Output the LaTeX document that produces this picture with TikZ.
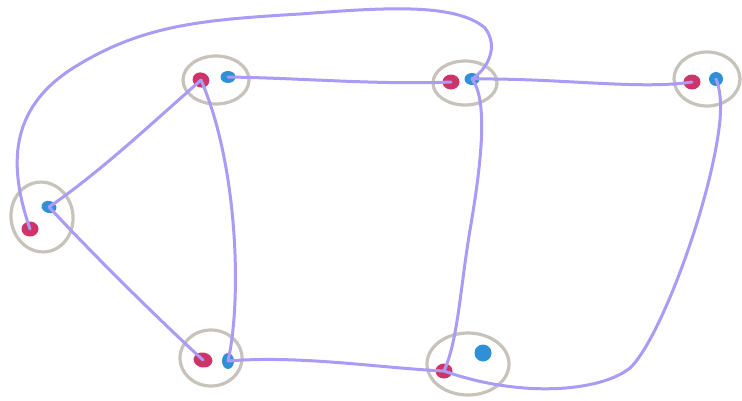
\documentclass[tikz,border=0pt]{standalone}
\usetikzlibrary{shapes.geometric}
\definecolor{ringgray}{HTML}{C7C3BB}
\definecolor{portred}{HTML}{CF3468}
\definecolor{portblue}{HTML}{2F90D8}
\definecolor{wire}{HTML}{A99BF6}
\tikzset{
  ring/.style={ellipse, draw=ringgray, line width=3.2pt, inner sep=0pt},
  redport/.style={ellipse, fill=portred, inner sep=0pt, minimum width=17pt, minimum height=15pt},
  blueport/.style={ellipse, fill=portblue, inner sep=0pt, minimum width=15pt, minimum height=12pt},
  link/.style={draw=wire, line width=3pt, line cap=round, line join=round}
}
\begin{document}
\begin{tikzpicture}[x=1pt, y=-1pt]
\useasboundingbox (0,0) rectangle (742,400);
% rings
\node[ring, minimum width=66pt, minimum height=48pt] (A) at (216,80) {};
\node[ring, minimum width=64pt, minimum height=44pt] (B) at (465,83) {};
\node[ring, minimum width=66pt, minimum height=54pt] (C) at (707,79) {};
\node[ring, minimum width=62pt, minimum height=70pt, rotate=8] (D) at (42,217) {};
\node[ring, minimum width=62pt, minimum height=56pt] (E) at (211,358) {};
\node[ring, minimum width=82pt, minimum height=62pt] (F) at (468,364) {};
% ports
\node[redport, rotate=-20] (aR) at (201,80) {};
\node[blueport] (aB) at (228,77) {};
\node[redport] (bR) at (451,82) {};
\node[blueport] (bB) at (472,79) {};
\node[redport] (cR) at (692,82) {};
\node[blueport, minimum width=14pt, minimum height=14pt] (cB) at (716,79) {};
\node[blueport, rotate=-15] (dB) at (49,207) {};
\node[redport] (dR) at (30,229) {};
\node[redport, minimum width=19pt, rotate=-10] (eR) at (203,360) {};
\node[blueport, minimum width=12pt, minimum height=16pt] (eB) at (228,361) {};
\node[redport] (fR) at (444,371) {};
\node[blueport, minimum width=17pt, minimum height=17pt] (fB) at (483,353) {};
% links
\path[link] (dB.center) .. controls (100,172) and (150,125) .. (aR.center);
\path[link] (dB.center) .. controls (100,262) and (170,330) .. (eR.center);
\path[link] (aR.center) .. controls (238,165) and (242,300) .. (eB.center);
\path[link] (aB.center) .. controls (300,78) and (380,85) .. (bR.center);
\path[link] (bB.center) .. controls (560,78) and (640,90) .. (cR.center);
\path[link] (dR.center) .. controls (8,165) and (10,110) .. (70,70)
  .. controls (140,25) and (200,20) .. (300,14)
  .. controls (380,8) and (455,2) .. (485,28)
  .. controls (500,48) and (486,70) .. (bB.center);
\path[link] (bB.center) .. controls (488,100) and (482,160) .. (470,230)
  .. controls (460,290) and (458,340) .. (fR.center);
\path[link] (eB.center) .. controls (300,355) and (380,368) .. (fR.center);
\path[link] (fR.center) .. controls (520,398) and (600,392) .. (630,368)
  .. controls (660,340) and (712,200) .. (720,120)
  .. controls (722,95) and (718,84) .. (cB.center);
\end{tikzpicture}
\end{document}
